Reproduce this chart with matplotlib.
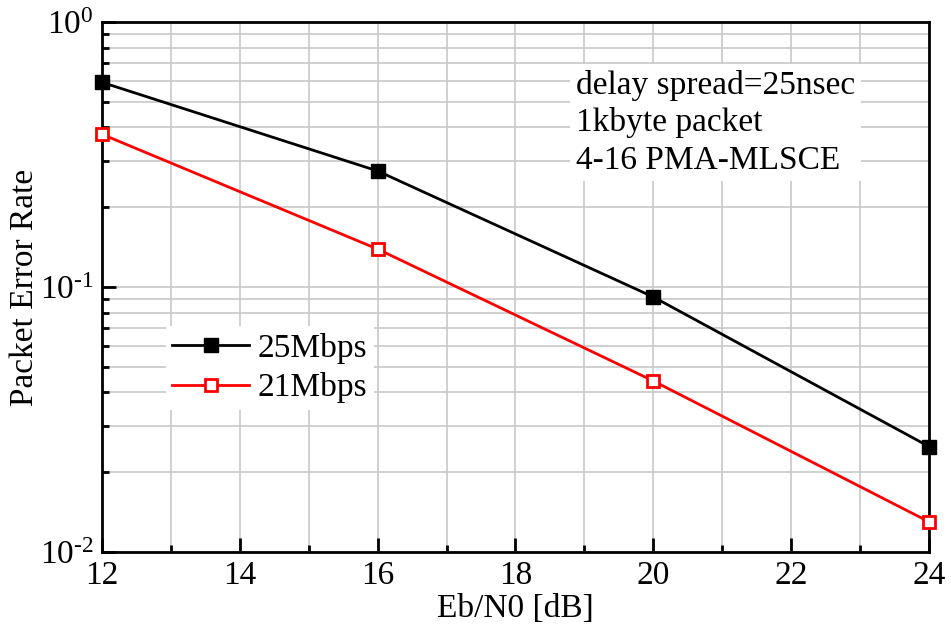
import matplotlib
matplotlib.use("Agg")
import matplotlib.pyplot as plt
import numpy as np
from matplotlib.ticker import LogLocator, MultipleLocator, NullFormatter, FuncFormatter

plt.rcParams['font.family'] = ['Liberation Serif', 'DejaVu Serif']
plt.rcParams['mathtext.fontset'] = 'custom'
plt.rcParams['mathtext.rm'] = 'Liberation Serif'
plt.rcParams['mathtext.it'] = 'Liberation Serif:italic'

ebn0 = [12, 16, 20, 24]
per_25 = [0.592, 0.274, 0.0917, 0.0250]
per_21 = [0.377, 0.139, 0.0442, 0.0130]
labels = ["25Mbps", "21Mbps"]
xlabel = "Eb/N0 [dB]"
ylabel = "Packet Error Rate"
note = "delay spread=25nsec\n1kbyte packet\n4-16 PMA-MLSCE"

fig = plt.figure(figsize=(9.51, 6.31), dpi=100)
ax = fig.add_axes([102/951, 1-552/631, 827/951, 530/631])

ax.plot(ebn0, per_25, color='black', lw=2, marker='s', ms=10, mfc='black',
        mec='black', label=labels[0], clip_on=False, zorder=5)
ax.plot(ebn0, per_21, color='red', lw=2, marker='s', ms=9, mfc='white',
        mec='red', mew=2, label=labels[1], clip_on=False, zorder=5)

ax.set_yscale('log')
ax.set_xlim(12, 24)
ax.set_ylim(1e-2, 1)
ax.xaxis.set_major_locator(MultipleLocator(2))
ax.xaxis.set_minor_locator(MultipleLocator(1))
ax.yaxis.set_major_locator(LogLocator(base=10, numticks=10))
ax.yaxis.set_minor_locator(LogLocator(base=10, subs=range(2, 10), numticks=20))
ax.yaxis.set_minor_formatter(NullFormatter())

def _fmt(v, pos):
    e = int(round(np.log10(v)))
    return r'$\mathregular{10}^{\text{%d}}$' % e

ax.yaxis.set_major_formatter(FuncFormatter(_fmt))

ax.grid(True, which='both', color='#c8c8c8', lw=1.2)
ax.set_axisbelow(True)
for s in ax.spines.values():
    s.set_linewidth(2)
ax.tick_params(which='major', direction='in', length=10, width=2, labelsize=24,
               top=False, right=False, pad=6)
ax.tick_params(which='minor', direction='in', length=5, width=2,
               top=False, right=False)

ax.set_xlabel(xlabel, fontsize=24, labelpad=2)
ax.set_ylabel(ylabel, fontsize=24)
ax.yaxis.set_label_coords(-0.075, 0.5)

ax.text(0.573, 0.91, note, transform=ax.transAxes, fontsize=24,
        va='top', ha='left', linespacing=1.28,
        bbox=dict(facecolor='white', edgecolor='none', pad=4))

leg = ax.legend(loc='upper left', bbox_to_anchor=(0.057, 0.457), fontsize=24,
                frameon=True, framealpha=1, edgecolor='none', fancybox=False,
                handlelength=2.3, handletextpad=0.25, labelspacing=0.25,
                borderpad=0.2)

fig.savefig('out.png', dpi=100)
